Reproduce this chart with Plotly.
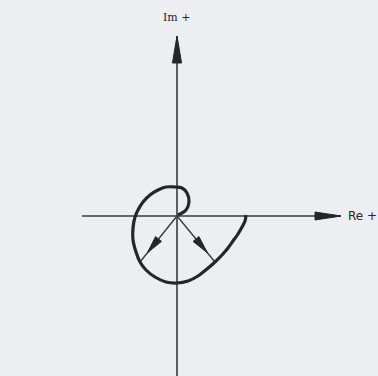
import numpy as np
import plotly.graph_objects as go

# Locus of the complex function (real / imaginary parts, drawing units)
re_vals = [1, 9, 12, 10, 5, -2, -11, -19, -27, -34, -39, -42, -44, -44, -41, -37,
           -31, -22, -11, 0, 11, 21, 30, 38, 45, 51, 56, 61, 65, 68, 69]
im_vals = [1, 6, 14, 23, 28, 29, 29, 26, 21, 14, 6, -1, -12, -24, -36, -46,
           -54, -61, -66, -67, -65, -60, -53, -46, -39, -32, -25, -18, -11, -5, 1]

# Points of the locus shown as phasors from the origin
phasor_idx = [15, 23]

# Axis extents and labels
x_range = [-177, 201]
y_range = [-160, 216]
re_axis = [-95, 164]
im_axis = [-160, 180]
axis_labels = ["Re +", "Im +"]

INK = "#262626"
AXIS = "#3a3a3a"

fig = go.Figure()


def wedge(x0, y0, x1, y1, t_base, t_tip, half):
    """Filled arrowhead along the segment (x0,y0)->(x1,y1): base at t_base, tip at t_tip."""
    dx, dy = x1 - x0, y1 - y0
    n = np.hypot(dx, dy)
    ux, uy = dx / n, dy / n
    px, py = -uy, ux
    tx, ty = x0 + dx * t_tip, y0 + dy * t_tip
    bx, by = x0 + dx * t_base, y0 + dy * t_base
    xs = [tx, bx + px * half, bx - px * half, tx]
    ys = [ty, by + py * half, by - py * half, ty]
    return go.Scatter(x=xs, y=ys, mode="lines", fill="toself", fillcolor=INK,
                      line=dict(color=INK, width=1), hoverinfo="skip", showlegend=False)


# Real axis with arrowhead
fig.add_trace(go.Scatter(x=re_axis, y=[0, 0], mode="lines",
                         line=dict(color=AXIS, width=1.6), showlegend=False, hoverinfo="skip"))
fig.add_trace(wedge(re_axis[1] - 26, 0, re_axis[1], 0, 0.0, 1.0, 4.0))

# Imaginary axis with arrowhead
fig.add_trace(go.Scatter(x=[0, 0], y=im_axis, mode="lines",
                         line=dict(color=AXIS, width=1.6), showlegend=False, hoverinfo="skip"))
fig.add_trace(wedge(0, im_axis[1] - 27, 0, im_axis[1], 0.0, 1.0, 4.6))

# Phasors from the origin to the locus
for i in phasor_idx:
    xe, ye = re_vals[i], im_vals[i]
    fig.add_trace(go.Scatter(x=[0, xe], y=[0, ye], mode="lines",
                             line=dict(color=AXIS, width=1.4), showlegend=False, hoverinfo="skip"))
    fig.add_trace(wedge(0, 0, xe, ye, 0.50, 0.80, 3.8))

# The locus itself
fig.add_trace(go.Scatter(x=re_vals, y=im_vals, mode="lines",
                         line=dict(color=INK, width=3.2, shape="spline", smoothing=1.0),
                         showlegend=False, hoverinfo="skip"))

# Axis labels
fig.add_annotation(x=re_axis[1] + 21, y=0, text=axis_labels[0], showarrow=False,
                   font=dict(family="DejaVu Sans", size=12, color=INK), xanchor="center")
fig.add_annotation(x=0, y=im_axis[1] + 19, text=axis_labels[1], showarrow=False,
                   font=dict(family="DejaVu Serif", size=11, color=INK), xanchor="center")

fig.update_layout(
    width=378, height=376,
    margin=dict(l=0, r=0, t=0, b=0),
    paper_bgcolor="#eceef1", plot_bgcolor="#eceef1",
    xaxis=dict(range=x_range, visible=False, fixedrange=True),
    yaxis=dict(range=y_range, visible=False, fixedrange=True),
    showlegend=False,
)

fig.write_html("out.html")
